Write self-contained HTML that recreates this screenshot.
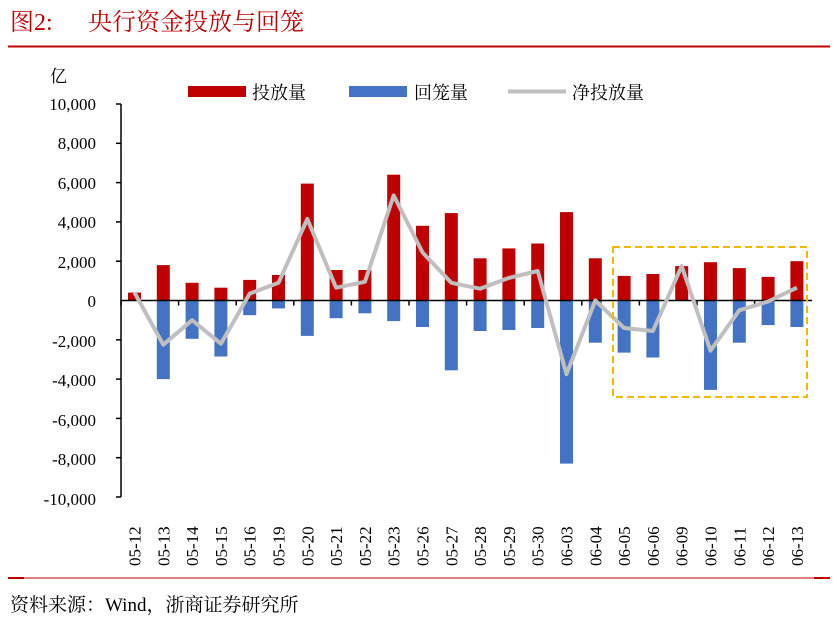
<!DOCTYPE html>
<html><head><meta charset="utf-8"><style>
body{margin:0;background:#fff;width:837px;height:630px;overflow:hidden}
svg{display:block;font-family:"Liberation Serif","Noto Serif CJK SC",serif}
</style></head><body>
<svg width="837" height="630" viewBox="0 0 837 630" xmlns="http://www.w3.org/2000/svg">
<text x="10" y="30" font-size="24" fill="#C00000">图2:</text>
<text x="88" y="30" font-size="24" fill="#C00000">央行资金投放与回笼</text>
<line x1="8" y1="46.5" x2="830" y2="46.5" stroke="#C00000" stroke-width="2"/>
<text x="50" y="82" font-size="17">亿</text>
<g font-size="17" text-anchor="end">
<text x="96" y="110">10,000</text><text x="96" y="149">8,000</text><text x="96" y="189">6,000</text>
<text x="96" y="228">4,000</text><text x="96" y="268">2,000</text><text x="96" y="307">0</text>
<text x="96" y="347">-2,000</text><text x="96" y="386">-4,000</text><text x="96" y="426">-6,000</text>
<text x="96" y="465">-8,000</text><text x="96" y="505">-10,000</text>
</g>
<g transform="translate(-6.5,300.5) scale(1,-1)" fill="#C00000">
<rect x="134.5" y="0" width="13" height="7.9"/><rect x="163.3" y="0" width="13" height="35.4"/><rect x="192.1" y="0" width="13" height="17.7"/><rect x="220.9" y="0" width="13" height="12.8"/><rect x="249.7" y="0" width="13" height="20.6"/><rect x="278.5" y="0" width="13" height="25.5"/><rect x="307.3" y="0" width="13" height="116.9"/><rect x="336.1" y="0" width="13" height="30.5"/><rect x="364.9" y="0" width="13" height="30.5"/><rect x="393.7" y="0" width="13" height="125.8"/><rect x="422.5" y="0" width="13" height="74.7"/><rect x="451.3" y="0" width="13" height="87.4"/><rect x="480.1" y="0" width="13" height="42.2"/><rect x="508.9" y="0" width="13" height="52.1"/><rect x="537.7" y="0" width="13" height="57"/><rect x="566.5" y="0" width="13" height="88.4"/><rect x="595.3" y="0" width="13" height="42.2"/><rect x="624.1" y="0" width="13" height="24.6"/><rect x="652.9" y="0" width="13" height="26.5"/><rect x="681.7" y="0" width="13" height="34.4"/><rect x="710.5" y="0" width="13" height="38.3"/><rect x="739.3" y="0" width="13" height="32.4"/><rect x="768.1" y="0" width="13" height="23.6"/><rect x="796.9" y="0" width="13" height="39.3"/>
</g>
<g transform="translate(-6.5,300.5)" fill="#4472C4">
<rect x="163.3" y="0" width="13" height="78.6"/><rect x="192.1" y="0" width="13" height="38.3"/><rect x="220.9" y="0" width="13" height="56"/><rect x="249.7" y="0" width="13" height="14.7"/><rect x="278.5" y="0" width="13" height="7.9"/><rect x="307.3" y="0" width="13" height="35.4"/><rect x="336.1" y="0" width="13" height="17.7"/><rect x="364.9" y="0" width="13" height="12.8"/><rect x="393.7" y="0" width="13" height="20.6"/><rect x="422.5" y="0" width="13" height="26.5"/><rect x="451.3" y="0" width="13" height="69.8"/><rect x="480.1" y="0" width="13" height="30.5"/><rect x="508.9" y="0" width="13" height="29.5"/><rect x="537.7" y="0" width="13" height="27.5"/><rect x="566.5" y="0" width="13" height="163.1"/><rect x="595.3" y="0" width="13" height="42.2"/><rect x="624.1" y="0" width="13" height="52.1"/><rect x="652.9" y="0" width="13" height="57"/><rect x="710.5" y="0" width="13" height="89.4"/><rect x="739.3" y="0" width="13" height="42.2"/><rect x="768.1" y="0" width="13" height="24.6"/><rect x="796.9" y="0" width="13" height="26.5"/>
</g>
<line x1="121" y1="300.5" x2="812" y2="300.5" stroke="#000" stroke-width="1.5"/>
<g stroke="#000" stroke-width="1.5">
<line x1="121" y1="300.5" x2="121" y2="305.5"/><line x1="178.6" y1="300.5" x2="178.6" y2="305.5"/><line x1="236.2" y1="300.5" x2="236.2" y2="305.5"/><line x1="293.8" y1="300.5" x2="293.8" y2="305.5"/><line x1="351.4" y1="300.5" x2="351.4" y2="305.5"/><line x1="409" y1="300.5" x2="409" y2="305.5"/><line x1="466.6" y1="300.5" x2="466.6" y2="305.5"/><line x1="524.2" y1="300.5" x2="524.2" y2="305.5"/><line x1="581.8" y1="300.5" x2="581.8" y2="305.5"/><line x1="639.4" y1="300.5" x2="639.4" y2="305.5"/><line x1="697" y1="300.5" x2="697" y2="305.5"/><line x1="754.6" y1="300.5" x2="754.6" y2="305.5"/>
</g>
<polyline points="134.5,292.6 163.3,344.7 192.1,320.2 220.9,343.7 249.7,293.6 278.5,282.8 307.3,219 336.1,287.7 364.9,281.8 393.7,195.4 422.5,252.4 451.3,282.8 480.1,288.7 508.9,277.9 537.7,271 566.5,374.2 595.3,300.5 624.1,328 652.9,331 681.7,266.1 710.5,350.6 739.3,310.3 768.1,301.5 796.9,287.7" fill="none" stroke="#BFBFBF" stroke-width="4" stroke-linejoin="round"/>
<line x1="121" y1="104" x2="121" y2="497" stroke="#000" stroke-width="1.5"/>
<g stroke="#000" stroke-width="1.5">
<line x1="116" y1="104" x2="121" y2="104"/><line x1="116" y1="143.3" x2="121" y2="143.3"/><line x1="116" y1="182.6" x2="121" y2="182.6"/><line x1="116" y1="221.9" x2="121" y2="221.9"/><line x1="116" y1="261.2" x2="121" y2="261.2"/><line x1="116" y1="339.8" x2="121" y2="339.8"/><line x1="116" y1="379.1" x2="121" y2="379.1"/><line x1="116" y1="418.4" x2="121" y2="418.4"/><line x1="116" y1="457.7" x2="121" y2="457.7"/><line x1="116" y1="497" x2="121" y2="497"/>
</g>
<g font-size="17">
<text transform="translate(140.5,566) rotate(-90)">05-12</text><text transform="translate(169.3,566) rotate(-90)">05-13</text><text transform="translate(198.1,566) rotate(-90)">05-14</text><text transform="translate(226.9,566) rotate(-90)">05-15</text><text transform="translate(255.7,566) rotate(-90)">05-16</text><text transform="translate(284.5,566) rotate(-90)">05-19</text><text transform="translate(313.3,566) rotate(-90)">05-20</text><text transform="translate(342.1,566) rotate(-90)">05-21</text><text transform="translate(370.9,566) rotate(-90)">05-22</text><text transform="translate(399.7,566) rotate(-90)">05-23</text><text transform="translate(428.5,566) rotate(-90)">05-26</text><text transform="translate(457.3,566) rotate(-90)">05-27</text><text transform="translate(486.1,566) rotate(-90)">05-28</text><text transform="translate(514.9,566) rotate(-90)">05-29</text><text transform="translate(543.7,566) rotate(-90)">05-30</text><text transform="translate(572.5,566) rotate(-90)">06-03</text><text transform="translate(601.3,566) rotate(-90)">06-04</text><text transform="translate(630.1,566) rotate(-90)">06-05</text><text transform="translate(658.9,566) rotate(-90)">06-06</text><text transform="translate(687.7,566) rotate(-90)">06-09</text><text transform="translate(716.5,566) rotate(-90)">06-10</text><text transform="translate(745.3,566) rotate(-90)">06-11</text><text transform="translate(774.1,566) rotate(-90)">06-12</text><text transform="translate(802.9,566) rotate(-90)">06-13</text>
</g>
<rect x="613" y="247" width="194" height="150" fill="none" stroke="#F5B800" stroke-width="2" stroke-dasharray="7,4"/>
<rect x="188" y="86" width="58" height="11" fill="#C00000"/>
<text x="252" y="99" font-size="18">投放量</text>
<rect x="349" y="86" width="58" height="11" fill="#4472C4"/>
<text x="414" y="99" font-size="18">回笼量</text>
<line x1="508" y1="91.5" x2="566" y2="91.5" stroke="#BFBFBF" stroke-width="4"/>
<text x="572" y="99" font-size="18">净投放量</text>
<line x1="8" y1="578" x2="830" y2="578" stroke="#C00000" stroke-width="1"/>
<line x1="8" y1="578" x2="24" y2="578" stroke="#C00000" stroke-width="2"/>
<line x1="814" y1="578" x2="830" y2="578" stroke="#C00000" stroke-width="2"/>
<text x="10" y="611" font-size="19">资料来源：Wind，浙商证券研究所</text>
</svg>
</body></html>
